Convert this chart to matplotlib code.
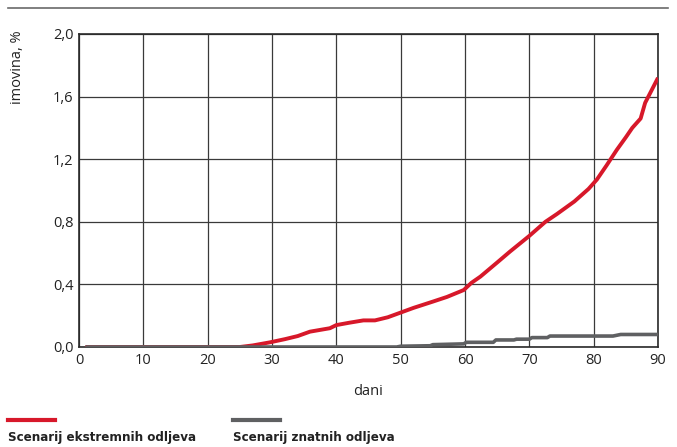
import matplotlib
matplotlib.use("Agg")
import matplotlib.pyplot as plt
from matplotlib.lines import Line2D

plt.rcParams['font.family'] = ['Open Sans', 'DejaVu Sans']

# Data
red_days = [1, 25, 27, 29.7, 32, 34, 35.9, 39, 40, 42, 44.2, 46, 48, 50, 52, 53.5, 55, 57.2, 59.8,
            61, 62.4, 65, 67, 70, 72.5, 74.3, 77, 79.2, 80.5, 82, 83.6, 85, 86, 87.3, 88, 89, 90]
red_vals = [0.0, 0.0, 0.01, 0.03, 0.05, 0.07, 0.098, 0.12, 0.14, 0.155, 0.17, 0.17, 0.19, 0.22, 0.25,
            0.27, 0.29, 0.32, 0.364, 0.41, 0.45, 0.54, 0.61, 0.71, 0.80, 0.85, 0.93, 1.01, 1.07, 1.16,
            1.26, 1.34, 1.40, 1.46, 1.56, 1.64, 1.72]
gray_days = [1, 49.4, 50, 54.6, 55, 59.8, 60.2, 64.4, 64.8, 67.6, 68, 70, 70.4, 72.8, 73.2, 83, 84.2, 90]
gray_vals = [0.0, 0.0, 0.005, 0.008, 0.015, 0.02, 0.03, 0.03, 0.045, 0.045, 0.05, 0.05, 0.06, 0.06, 0.07, 0.07, 0.08, 0.08]

x_ticks = [0, 10, 20, 30, 40, 50, 60, 70, 80, 90]
y_ticks = [0.0, 0.4, 0.8, 1.2, 1.6, 2.0]
y_tick_labels = ['0,0', '0,4', '0,8', '1,2', '1,6', '2,0']
series_names = ['Scenarij ekstremnih odljeva', 'Scenarij znatnih odljeva']
red = '#d7182a'
gray = '#5f6062'

fig = plt.figure(figsize=(6.77, 4.47), dpi=100)
ax = fig.add_axes([79/677, 1-347/447, (658-79)/677, (347-34)/447])

ax.plot(red_days, red_vals, color=red, lw=2.8, solid_capstyle='butt', zorder=3)
ax.plot(gray_days, gray_vals, color=gray, lw=2.6, solid_capstyle='butt', zorder=4)

ax.set_xlim(0, 90)
ax.set_ylim(0, 2.0)
ax.set_xticks(x_ticks)
ax.set_yticks(y_ticks)
ax.set_yticklabels(y_tick_labels)
ax.grid(True, color='#3a3a3a', lw=0.9)
ax.set_axisbelow(True)
ax.tick_params(length=0, labelsize=10.5, colors='#222222', pad=4)
for s in ax.spines.values():
    s.set_color('#2a2a2a')
    s.set_linewidth(1.2)

ax.set_xlabel('dani', fontsize=10.5, color='#222222', labelpad=12)
fig.text(18/677, 1-30/447, 'imovina, %', rotation=90, ha='center', va='top', fontsize=10.5, color='#222222')

# top rule
fig.add_artist(Line2D([8/677, 668/677], [1-8/447, 1-8/447], color='#6a6a6a', lw=1.2))

# legend
fig.add_artist(Line2D([8/677, 55/677], [1-420/447, 1-420/447], color=red, lw=3))
fig.add_artist(Line2D([233/677, 280/677], [1-420/447, 1-420/447], color=gray, lw=3))
fig.text(8/677, 1-438/447, series_names[0], ha='left', va='center', fontsize=9.5,
         fontweight='bold', color='#222222', family='DejaVu Sans', fontstretch='condensed')
fig.text(233/677, 1-438/447, series_names[1], ha='left', va='center', fontsize=9.5,
         fontweight='bold', color='#222222', family='DejaVu Sans', fontstretch='condensed')

fig.savefig('out.png', dpi=100)
